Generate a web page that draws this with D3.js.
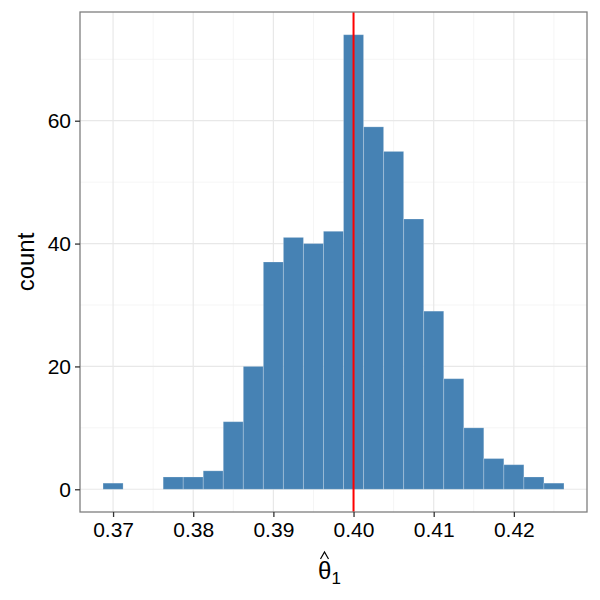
<!DOCTYPE html>
<html lang="en">
<head>
<meta charset="UTF-8">
<title>Histogram theta hat</title>
<script src="https://cdn.jsdelivr.net/npm/d3@7"></script>
<style>
  body { margin: 0; background: #fff; }
  text { font-family: "Liberation Sans", Arial, Helvetica, sans-serif; }
</style>
</head>
<body>
<svg id="viz"></svg>
<script>
  // Data ---
  const binCenters = [0.37, 0.3725, 0.375, 0.3775, 0.38, 0.3825, 0.385, 0.3875, 0.39, 0.3925,
    0.395, 0.3975, 0.40, 0.4025, 0.405, 0.4075, 0.41, 0.4125, 0.415, 0.4175, 0.42, 0.4225, 0.425];
  const counts = [1, 0, 0, 2, 2, 3, 11, 20, 37, 41,
    40, 42, 74, 59, 55, 44, 29, 18, 10, 5, 4, 2, 1];
  const binWidth = 0.0025;
  const trueValue = 0.40;
  const xTicks = [0.37, 0.38, 0.39, 0.40, 0.41, 0.42];
  const xMinor = [0.375, 0.385, 0.395, 0.405, 0.415, 0.425];
  const yTicks = [0, 20, 40, 60];
  const yMinor = [10, 30, 50, 70];

  // Dimensions ---
  const width = 600, height = 600;
  const panel = { left: 80, right: 587, top: 12, bottom: 512 };

  const svg = d3.select('#viz')
    .attr('width', width)
    .attr('height', height);

  // Scales (ggplot style 5% expansion) ---
  const xLo = binCenters[0] - binWidth / 2, xHi = binCenters[binCenters.length - 1] + binWidth / 2;
  const xPad = (xHi - xLo) * 0.05;
  const x = d3.scaleLinear().domain([xLo - xPad, xHi + xPad]).range([panel.left, panel.right]);
  const yMax = d3.max(counts);
  const y = d3.scaleLinear().domain([-yMax * 0.05, yMax * 1.05]).range([panel.bottom, panel.top]);

  // Grid ---
  const grid = svg.append('g');
  grid.selectAll('line.xminor').data(xMinor).join('line')
    .attr('x1', d => x(d)).attr('x2', d => x(d))
    .attr('y1', panel.top).attr('y2', panel.bottom)
    .attr('stroke', '#f3f3f3').attr('stroke-width', 0.8);
  grid.selectAll('line.yminor').data(yMinor).join('line')
    .attr('y1', d => y(d)).attr('y2', d => y(d))
    .attr('x1', panel.left).attr('x2', panel.right)
    .attr('stroke', '#f3f3f3').attr('stroke-width', 0.8);
  grid.selectAll('line.xmajor').data(xTicks).join('line')
    .attr('x1', d => x(d)).attr('x2', d => x(d))
    .attr('y1', panel.top).attr('y2', panel.bottom)
    .attr('stroke', '#e8e8e8').attr('stroke-width', 1.2);
  grid.selectAll('line.ymajor').data(yTicks).join('line')
    .attr('y1', d => y(d)).attr('y2', d => y(d))
    .attr('x1', panel.left).attr('x2', panel.right)
    .attr('stroke', '#e8e8e8').attr('stroke-width', 1.2);

  // Bars ---
  svg.append('g')
    .selectAll('rect')
    .data(binCenters.map((c, i) => ({ c, n: counts[i] })).filter(d => d.n > 0))
    .join('rect')
    .attr('x', d => x(d.c - binWidth / 2))
    .attr('width', d => x(d.c + binWidth / 2) - x(d.c - binWidth / 2))
    .attr('y', d => y(d.n))
    .attr('height', d => y(0) - y(d.n))
    .attr('fill', '#4682B4')
    .attr('stroke', '#ffffff')
    .attr('stroke-opacity', 0.22)
    .attr('stroke-width', 1);

  // True value line ---
  svg.append('line')
    .attr('x1', x(trueValue)).attr('x2', x(trueValue))
    .attr('y1', panel.top).attr('y2', panel.bottom)
    .attr('stroke', '#ff0000').attr('stroke-width', 2);

  // Panel border ---
  svg.append('rect')
    .attr('x', panel.left).attr('y', panel.top)
    .attr('width', panel.right - panel.left).attr('height', panel.bottom - panel.top)
    .attr('fill', 'none').attr('stroke', '#7f7f7f').attr('stroke-width', 1.3);

  // Axes ---
  const xAxis = svg.append('g')
    .attr('transform', `translate(0,${panel.bottom})`)
    .call(d3.axisBottom(x).tickValues(xTicks).tickFormat(d3.format('.2f')).tickSize(5).tickPadding(5));
  const yAxis = svg.append('g')
    .attr('transform', `translate(${panel.left},0)`)
    .call(d3.axisLeft(y).tickValues(yTicks).tickSize(5).tickPadding(4));
  [xAxis, yAxis].forEach(ax => {
    ax.select('.domain').remove();
    ax.selectAll('.tick line').attr('stroke', '#333').attr('stroke-width', 1.3);
    ax.selectAll('.tick text').attr('fill', '#000').style('font-size', '21px')
      .style('font-family', '"Liberation Sans", Arial, sans-serif');
  });

  // Axis titles ---
  svg.append('text')
    .attr('transform', `translate(34,${(panel.top + panel.bottom) / 2}) rotate(-90)`)
    .attr('text-anchor', 'middle')
    .style('font-size', '24px')
    .text('count');

  const cx = (panel.left + panel.right) / 2;
  const xTitle = svg.append('text')
    .attr('x', cx - 4).attr('y', 579)
    .attr('text-anchor', 'middle')
    .style('font-size', '24px');
  xTitle.append('tspan').text('θ');
  xTitle.append('tspan').attr('dy', 5).style('font-size', '17px').text('1');
  // circumflex over theta
  const hx = cx - 9;
  svg.append('path')
    .attr('d', `M${hx - 4},559 L${hx},552 L${hx + 4},559`)
    .attr('fill', 'none')
    .attr('stroke', '#000')
    .attr('stroke-width', 1.2);
</script>
</body>
</html>
